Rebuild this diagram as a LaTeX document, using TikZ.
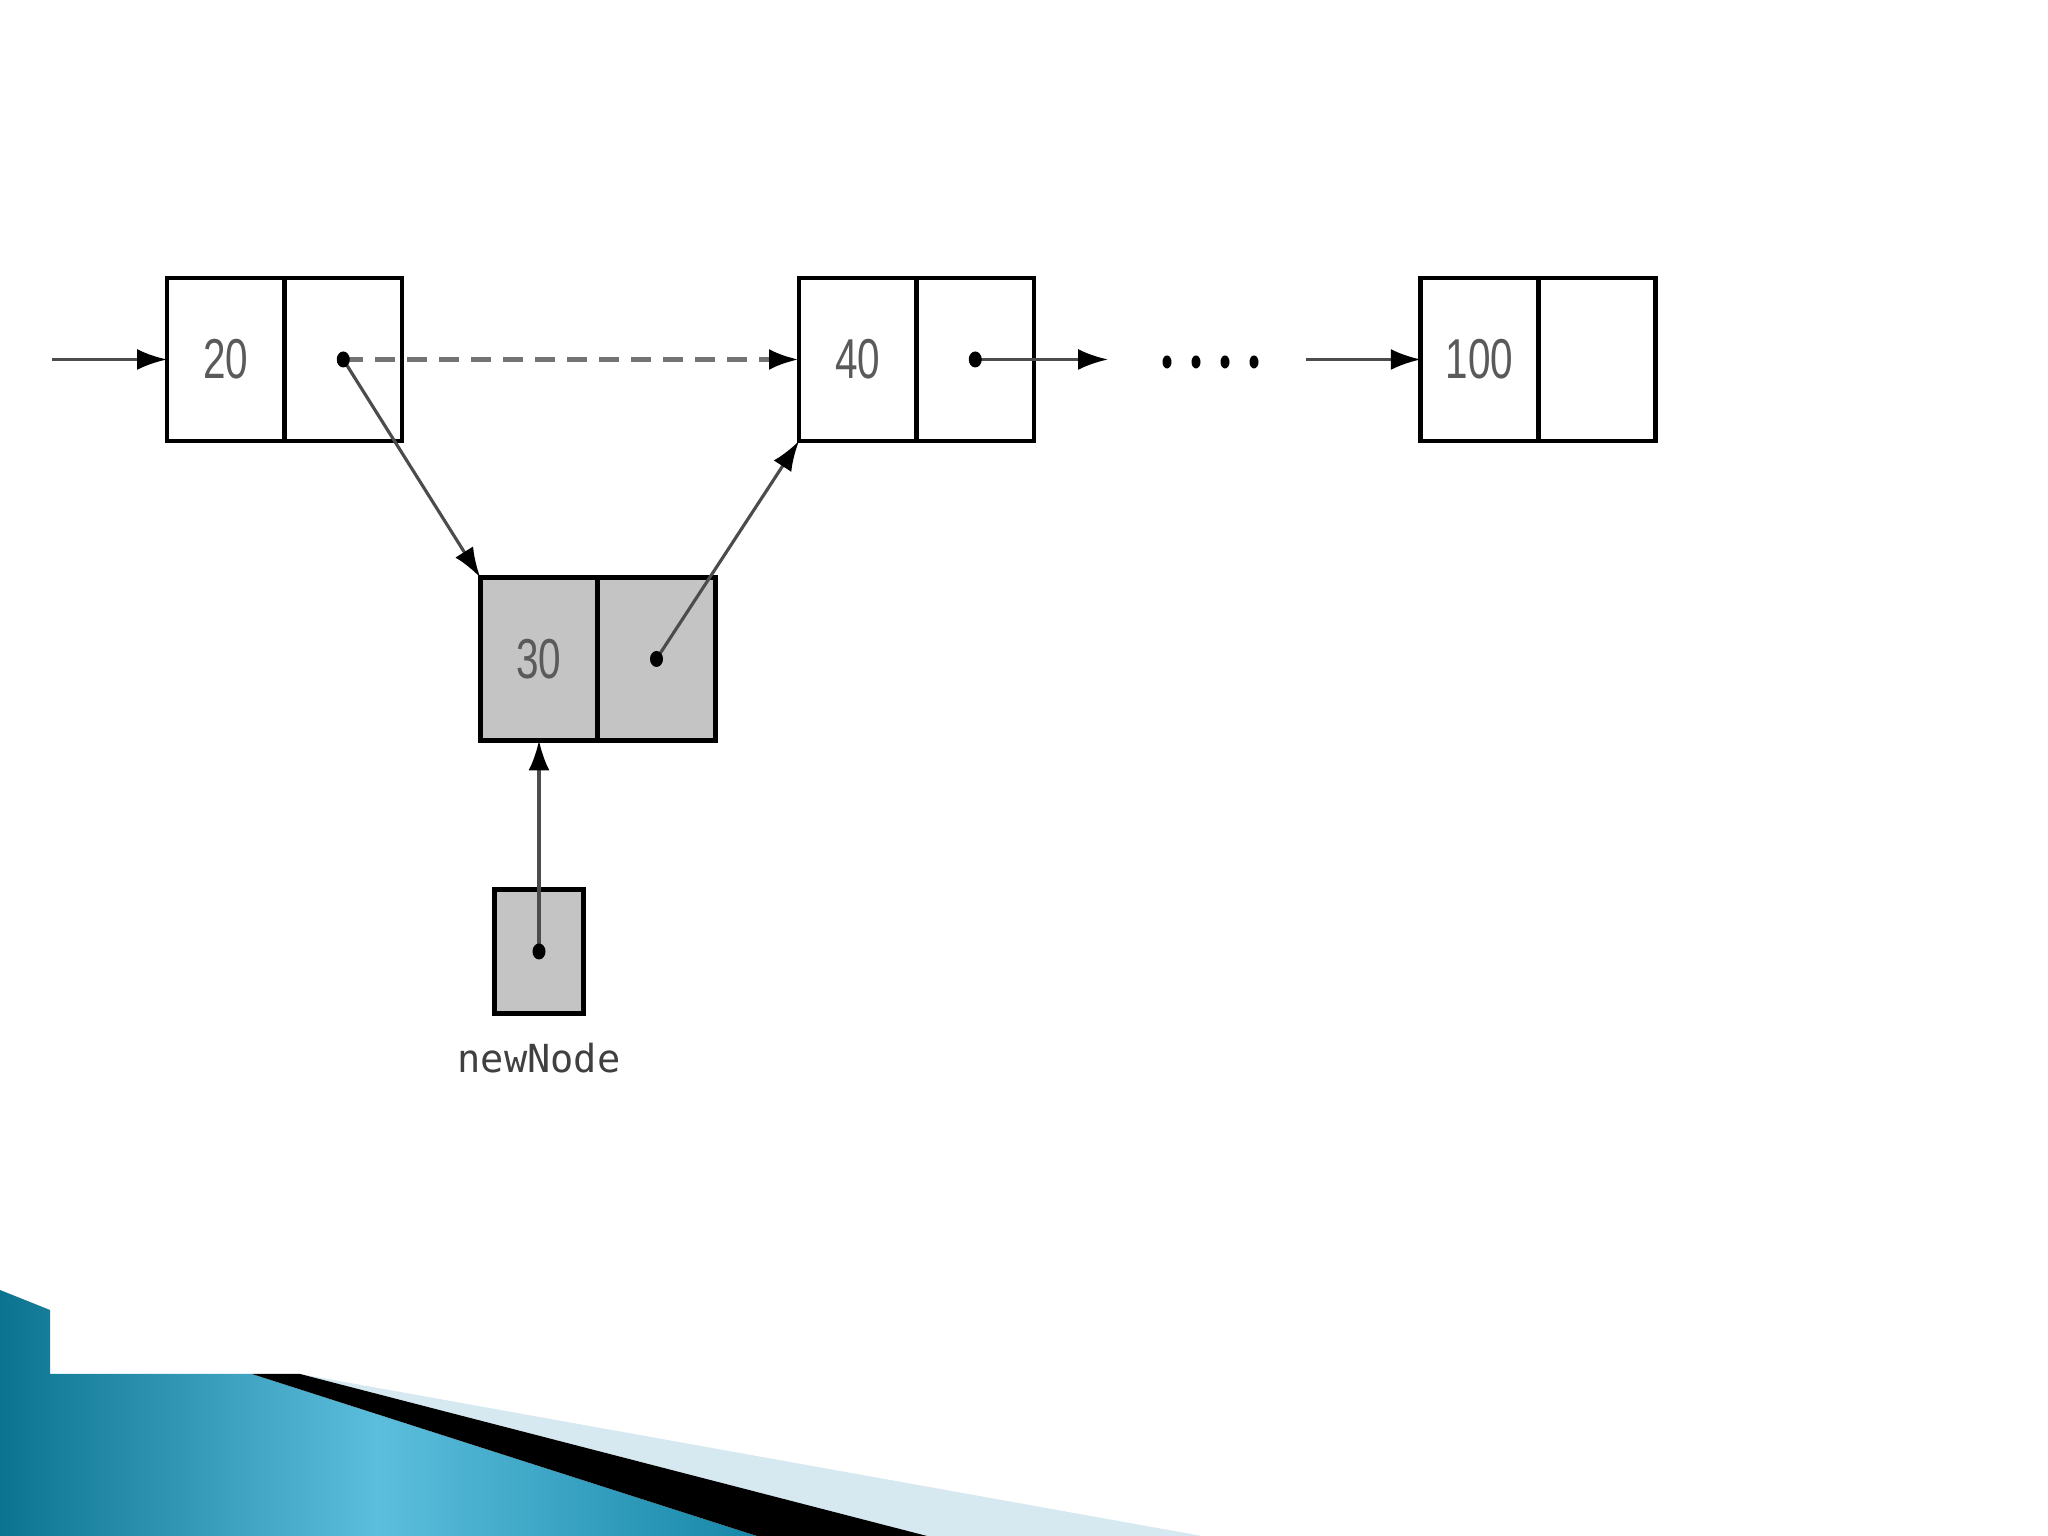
\documentclass[tikz,border=0pt]{standalone}
\usepackage{fontspec}
\usetikzlibrary{arrows.meta,positioning}
\newfontfamily\cellfont[FakeStretch=0.72]{Liberation Sans}
\newfontfamily\namefont{DejaVu Sans Mono}
\definecolor{shadegray}{HTML}{C4C4C4}
\definecolor{numgray}{HTML}{5A5A5A}
\definecolor{tealdark}{HTML}{0B7390}
\definecolor{teallight}{HTML}{5CBEDD}
\definecolor{tealmid}{HTML}{1687A8}
\definecolor{paleblue}{HTML}{D6E8F0}

\tikzset{
  cell/.style={draw, line width=1.3pt, minimum width=1.175cm, minimum height=1.63cm,
    inner sep=0pt, outer sep=0pt, font=\cellfont\fontsize{16}{16}\selectfont, text=numgray},
  newcell/.style={cell, fill=shadegray},
  link/.style={draw=black!70, line width=0.9pt, -{Latex[length=0.3cm,width=0.21cm,color=black]}},
}

\begin{document}
\begin{tikzpicture}
\useasboundingbox (0,0) rectangle (20.48,15.36);

% slide decoration
\shade[left color=tealdark, right color=tealmid, middle color=teallight]
  (0,2.46) -- (0.50,2.26) -- (0.50,1.62) -- (2.52,1.62) -- (7.57,0) -- (0,0) -- cycle;
\fill[paleblue] (3.00,1.62) -- (12.02,0) -- (9.27,0) -- cycle;
\fill[black] (2.52,1.62) -- (3.00,1.62) -- (9.27,0) -- (7.57,0) -- cycle;

% list nodes
\node[cell] (v20) at (2.2575,11.765) {20};
\node[cell, right=0pt of v20] (p20) {};
\node[cell] (v40) at (8.5775,11.765) {40};
\node[cell, right=0pt of v40] (p40) {};
\node[cell] (v100) at (14.795,11.765) {100};
\node[cell, right=0pt of v100] (p100) {};

% new node
\node[newcell] (v30) at (5.39,8.77) {30};
\node[newcell, right=0pt of v30] (p30) {};
\node[draw, line width=1.3pt, fill=shadegray, minimum width=0.89cm, minimum height=1.24cm,
  inner sep=0pt, outer sep=0pt] (ptr) at (5.39,5.845) {};
\node[font=\namefont\fontsize{11}{11}\selectfont, text=black!75] (name) at (5.39,4.78) {newNode};

\coordinate (head) at (0.52,11.765);
\coordinate (next40) at (11.08,11.765);
\coordinate (prev100) at (13.06,11.765);

% links
\draw[link] (head) -- (v20.west);
\draw[link, draw=black!55, line width=1.4pt, dash pattern=on 0.2cm off 0.12cm] (p20.center) -- (v40.west);
\draw[link] (p20.center) -- (v30.north west);
\draw[link] (p30.center) -- (v40.south west);
\draw[link] (p40.center) -- (next40);
\draw[link] (prev100) -- (v100.west);
\draw[link] (ptr.center) -- (v30.south);

\foreach \n in {p20,p40,p30,ptr}
  \fill (\n.center) ellipse (0.065 and 0.08);
\foreach \i in {0,...,3}
  \fill (11.67+0.29*\i,11.74) ellipse (0.045 and 0.065);
\end{tikzpicture}
\end{document}
